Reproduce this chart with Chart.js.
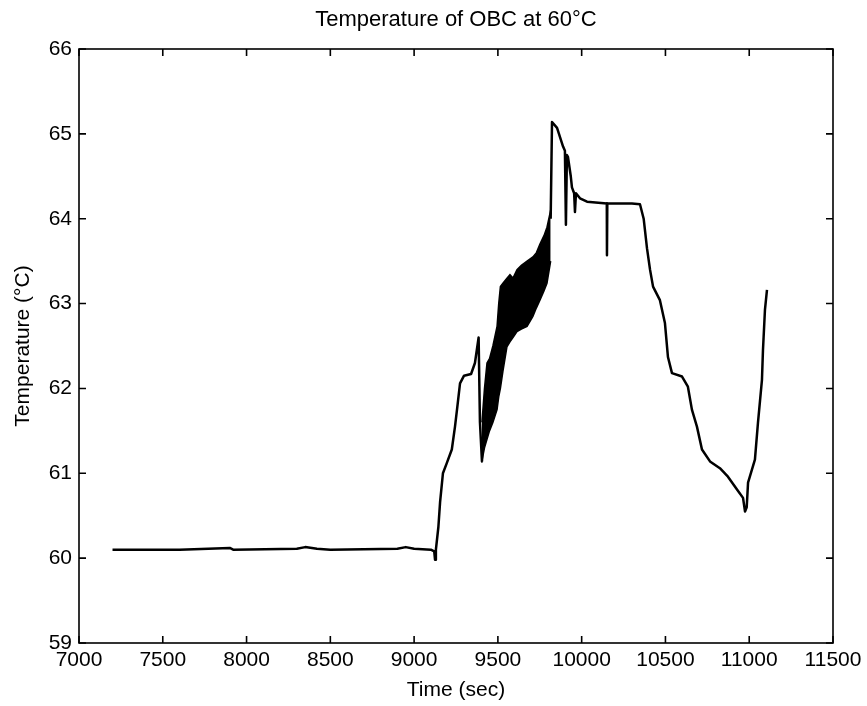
<!DOCTYPE html>
<html>
<head>
<meta charset="utf-8">
<title>Temperature of OBC at 60°C</title>
<script src="https://cdn.jsdelivr.net/npm/chart.js@4.4.1/dist/chart.umd.min.js"></script>
<style>
  html, body { margin: 0; padding: 0; background: #fff; }
  canvas { display: block; }
</style>
</head>
<body>
<canvas id="chart" width="867" height="706"></canvas>
<script>
// Main trace (time in sec, temperature in °C)
// null = the trace is hidden inside the dense band there
const timeSec = [7200, 7600, 7900, 7920, 8300, 8350, 8420, 8500, 8900, 8950, 9000, 9100,
  9120, 9125, 9130, 9145, 9155, 9172, 9195, 9225, 9244, 9256, 9274, 9298, 9340, 9363,
  9385, 9393, 9405, 9411, 9600,
  9815, 9823, 9853, 9889, 9900, 9906, 9912, 9918, 9935, 9942, 9955, 9960, 9966, 9990,
  10032, 10150, 10151, 10153, 10300, 10348, 10370, 10390, 10408, 10426, 10467, 10497,
  10515, 10539, 10599, 10634, 10658, 10688, 10718, 10766, 10825, 10873, 10927, 10963,
  10975, 10985, 10993, 11034, 11052, 11076, 11082, 11094, 11106];
const tempC = [60.10, 60.10, 60.12, 60.10, 60.11, 60.13, 60.11, 60.10, 60.11, 60.13, 60.11, 60.10,
  60.08, 59.98, 60.10, 60.37, 60.66, 61.00, 61.12, 61.28, 61.55, 61.75, 62.06, 62.15, 62.17, 62.30,
  62.60, 61.60, 61.14, 61.40, null,
  64.00, 65.14, 65.07, 64.85, 64.80, 63.93, 64.75, 64.73, 64.50, 64.37, 64.30, 64.08, 64.30, 64.24,
  64.20, 64.18, 63.57, 64.18, 64.18, 64.17, 64.00, 63.65, 63.40, 63.20, 63.04, 62.77,
  62.37, 62.18, 62.14, 62.02, 61.75, 61.55, 61.28, 61.14, 61.06, 60.96, 60.81, 60.71,
  60.55, 60.60, 60.89, 61.16, 61.59, 62.10, 62.45, 62.93, 63.16];

// Dense oscillation band between ~9400 and ~9820 sec: lower and upper envelope
const bandTime = [9405, 9420, 9435, 9450, 9470, 9495, 9505, 9515, 9530, 9554, 9572, 9590, 9614, 9640, 9674, 9709, 9730, 9751, 9775, 9793, 9815];
const bandLow  = [61.15, 61.30, 61.40, 61.50, 61.60, 61.75, 61.90, 62.00, 62.20, 62.49, 62.55, 62.60, 62.67, 62.70, 62.73, 62.85, 62.95, 63.04, 63.15, 63.24, 63.50];
const bandHigh = [61.60, 62.00, 62.30, 62.35, 62.50, 62.73, 63.00, 63.20, 63.24, 63.30, 63.34, 63.30, 63.40, 63.45, 63.50, 63.55, 63.60, 63.70, 63.80, 63.90, 64.10];

// Axis ranges and ticks
const xMin = 7000, xMax = 11500, xStep = 500;
const yMin = 59, yMax = 66, yStep = 1;

const FONT = "'Liberation Sans', Arial, Helvetica, sans-serif";
const toPoints = (xs, ys) => xs.map((x, i) => ({ x, y: ys[i] }));

// center the title over the plot box, like MATLAB does
const titleOverPlot = {
  id: 'titleOverPlot',
  afterLayout(chart) {
    const t = chart.titleBlock;
    if (!t) return;
    t.left = chart.chartArea.left;
    t.right = chart.chartArea.right;
    t.width = t.right - t.left;
  }
};

// MATLAB-like box with inward ticks on all four sides
const boxTicks = {
  id: 'boxTicks',
  afterDraw(chart) {
    const { ctx, chartArea: a, scales: { x, y } } = chart;
    const len = 7;
    ctx.save();
    ctx.strokeStyle = '#000';
    ctx.lineWidth = 1.6;
    ctx.strokeRect(a.left, a.top, a.right - a.left, a.bottom - a.top);
    ctx.beginPath();
    x.ticks.forEach(t => {
      const px = x.getPixelForValue(t.value);
      ctx.moveTo(px, a.bottom); ctx.lineTo(px, a.bottom - len);
      ctx.moveTo(px, a.top); ctx.lineTo(px, a.top + len);
    });
    y.ticks.forEach(t => {
      const py = y.getPixelForValue(t.value);
      ctx.moveTo(a.left, py); ctx.lineTo(a.left + len, py);
      ctx.moveTo(a.right, py); ctx.lineTo(a.right - len, py);
    });
    ctx.stroke();
    ctx.restore();
  }
};

new Chart(document.getElementById('chart'), {
  type: 'line',
  data: {
    datasets: [
      {
        label: 'band low',
        data: toPoints(bandTime, bandLow),
        borderColor: '#000', borderWidth: 1.5,
        pointRadius: 0, fill: false
      },
      {
        label: 'band high',
        data: toPoints(bandTime, bandHigh),
        borderColor: '#000', borderWidth: 1.5,
        backgroundColor: '#000',
        pointRadius: 0, fill: '-1'
      },
      {
        label: 'Temperature',
        data: toPoints(timeSec, tempC),
        borderColor: '#000', borderWidth: 2.5,
        borderJoinStyle: 'round',
        pointRadius: 0, fill: false, tension: 0, spanGaps: false
      }
    ]
  },
  options: {
    responsive: false,
    devicePixelRatio: 1,
    animation: false,
    layout: { padding: { left: 0, right: 34, top: 0, bottom: 0 } },
    plugins: {
      legend: { display: false },
      tooltip: { enabled: false },
      title: {
        display: true,
        text: 'Temperature of OBC at 60°C',
        color: '#000',
        font: { family: FONT, size: 22, weight: 'normal' },
        padding: { top: 7, bottom: 15.6 }
      }
    },
    scales: {
      x: {
        type: 'linear',
        min: xMin, max: xMax,
        grid: { display: false, drawTicks: false },
        border: { display: false },
        ticks: {
          stepSize: xStep, autoSkip: false, maxRotation: 0,
          color: '#000', padding: 5,
          font: { family: FONT, size: 21 },
          callback: v => String(v)
        },
        title: {
          display: true, text: 'Time (sec)', color: '#000',
          font: { family: FONT, size: 21 },
          padding: { top: 0, bottom: 3.4 }
        },
        afterFit: s => { s.height = 63; }
      },
      y: {
        type: 'linear',
        min: yMin, max: yMax,
        grid: { display: false, drawTicks: false },
        border: { display: false },
        ticks: {
          stepSize: yStep, autoSkip: false,
          color: '#000', padding: 7,
          font: { family: FONT, size: 21 },
          callback: v => String(v)
        },
        title: {
          display: true, text: 'Temperature (°C)', color: '#000',
          font: { family: FONT, size: 21 },
          padding: { top: 10.4, bottom: 0 }
        },
        afterFit: s => { s.width = 79; }
      }
    }
  },
  plugins: [titleOverPlot, boxTicks]
});
</script>
</body>
</html>
